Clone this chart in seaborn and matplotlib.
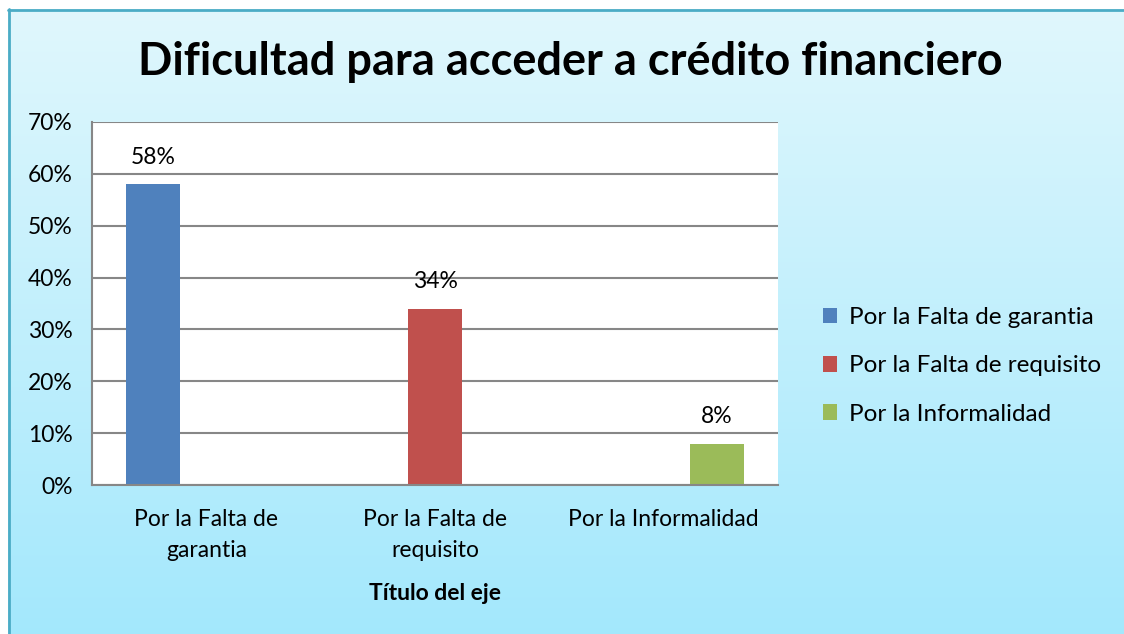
import numpy as np
import pandas as pd
import matplotlib
matplotlib.use('Agg')
import matplotlib.pyplot as plt
import seaborn as sns
from matplotlib.ticker import PercentFormatter

# data
categorias = ['Por la Falta de\ngarantia', 'Por la Falta de\nrequisito', 'Por la Informalidad']
series = ['Por la Falta de garantia', 'Por la Falta de requisito', 'Por la Informalidad']
valores = [0.58, 0.34, 0.08]
colores = ['#4F81BD', '#C0504D', '#9BBB59']

df = pd.DataFrame({'categoria': categorias, 'serie': series, 'valor': valores})

sns.set_theme(style='white')
plt.rcParams['font.family'] = ['Lato', 'DejaVu Sans']
plt.rcParams['text.color'] = 'black'

fig = plt.figure(figsize=(11.24, 6.34), dpi=100)
fig.patch.set_facecolor('white')

# gradient background with teal border (like the Excel chart area)
bg = fig.add_axes([0, 0, 1, 1], zorder=-1)
bg.axis('off')
grad = np.linspace(0, 1, 256).reshape(-1, 1)
top = np.array([0xE0, 0xF7, 0xFD]) / 255
bot = np.array([0xA3, 0xE8, 0xFC]) / 255
img = top + grad[:, :, None] * (bot - top)
bg.imshow(img, extent=[8, 1130, 640, 9], aspect='auto', interpolation='bilinear')
bg.plot([8, 1130], [9.5, 9.5], color='#4BACC6', lw=2)
bg.plot([8.5, 8.5], [9, 640], color='#4BACC6', lw=2)
bg.set_xlim(0, 1124)
bg.set_ylim(634, 0)

ax = fig.add_axes([0.0819, 0.235, 0.6103, 0.5726])
ax.set_facecolor('white')
sns.barplot(data=df, x='categoria', y='valor', hue='serie', hue_order=series,
            palette=colores, dodge=True, width=0.70, saturation=1, linewidth=0, ax=ax)

ax.set_ylim(0, 0.7)
ax.set_yticks(np.arange(0, 0.71, 0.1))
ax.yaxis.set_major_formatter(PercentFormatter(1, decimals=0))
ax.yaxis.grid(True, color='#878787', lw=1.5)
ax.set_axisbelow(True)
for s in ['top', 'right']:
    ax.spines[s].set_visible(False)
for s in ['left', 'bottom']:
    ax.spines[s].set_color('#878787')
    ax.spines[s].set_linewidth(1.5)
ax.tick_params(axis='y', length=5, width=1.5, color='#878787', pad=9, labelsize=16.5, labelcolor='black')
ax.tick_params(axis='x', length=0, pad=17, labelsize=16.5, labelcolor='black')
for t in ax.get_xticklabels():
    t.set_linespacing(1.6)
ax.set_ylabel('')
ax.set_xlabel('Título del eje', fontsize=16.5, fontweight='bold', labelpad=16, color='black')

for cont in ax.containers:
    labs = ['{:.0%}'.format(v) if v > 0 else '' for v in cont.datavalues]
    ax.bar_label(cont, labels=labs, padding=12, fontsize=16.5, color='black')

ax.legend(loc='center left', bbox_to_anchor=(1.033, 0.328), frameon=False, fontsize=17.5,
          handlelength=0.6, handleheight=0.6, handletextpad=0.5, labelspacing=1.12)

fig.suptitle('Dificultad para acceder a crédito financiero', x=0.507, y=0.935,
             fontsize=32.5, fontweight='bold', color='black')

fig.savefig('out.png', dpi=100)
